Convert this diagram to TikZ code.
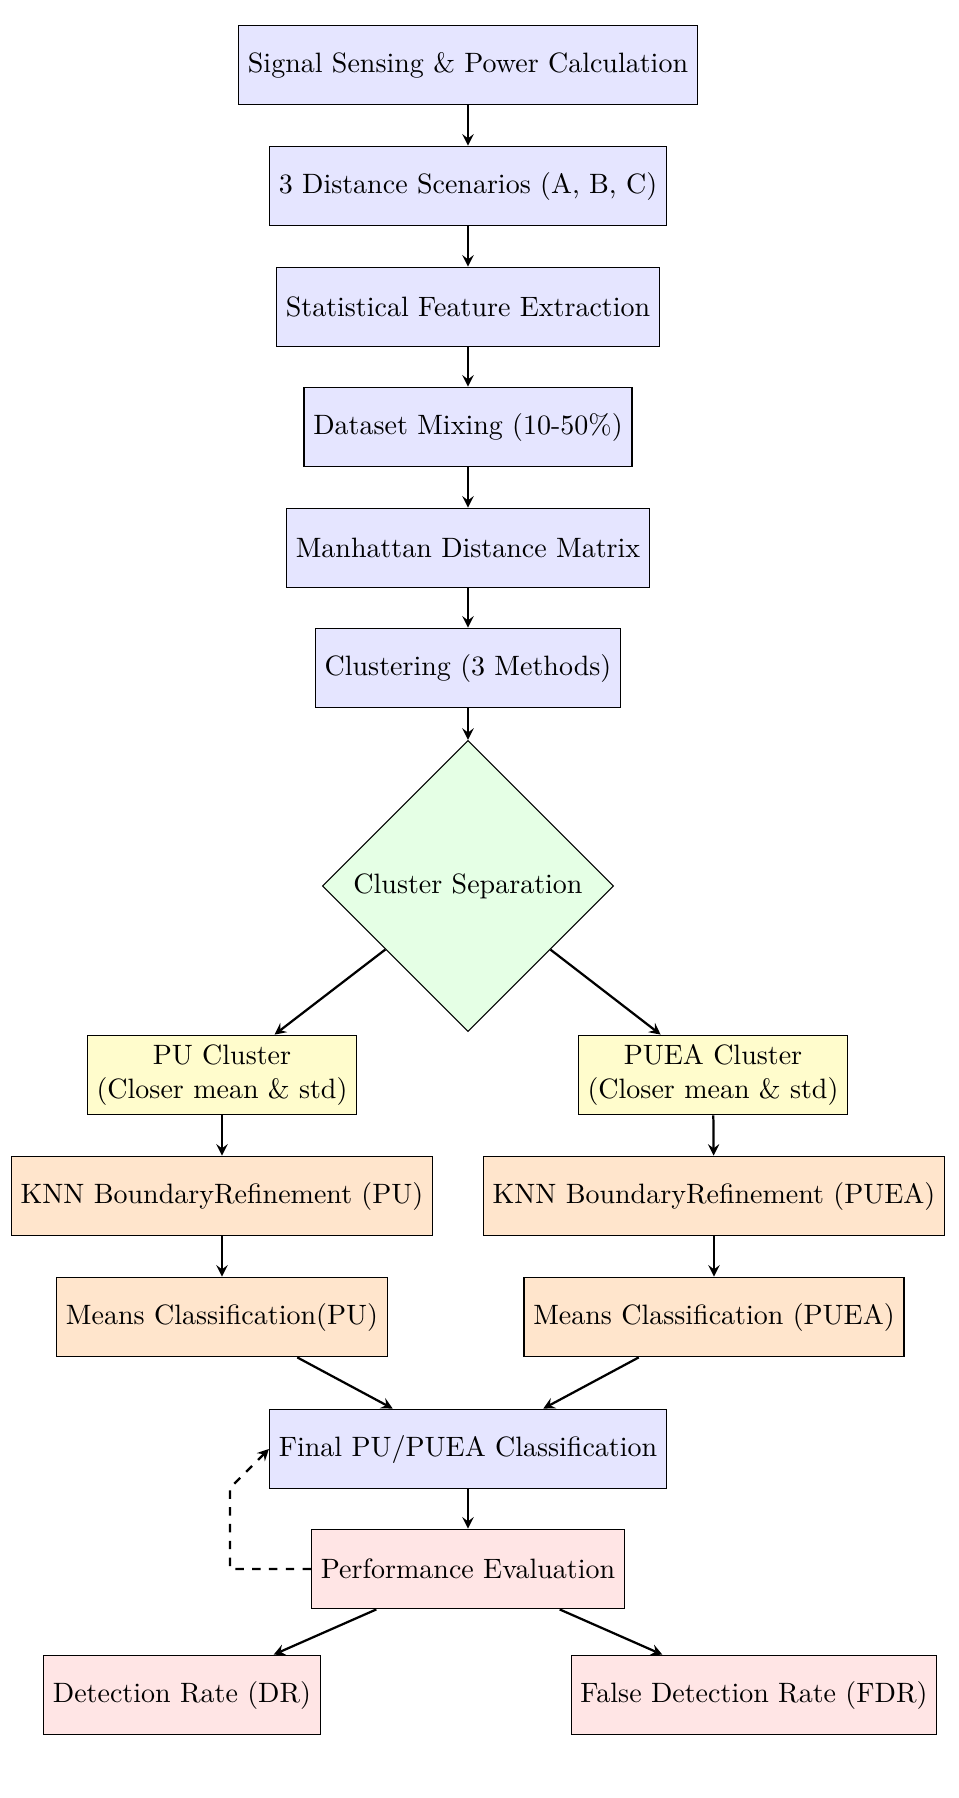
\documentclass[tikz,border=0pt]{standalone}
\usetikzlibrary{shapes.geometric}
\begin{document}
\begin{tikzpicture}[x=0.3571pt,y=-0.3571pt, >=stealth,
  box/.style={draw, rectangle, minimum height=1cm, align=center, font=\normalsize},
  bluebox/.style={box, fill=blue!10},
  yelbox/.style={box, fill=yellow!20},
  orbox/.style={box, fill=orange!20},
  redbox/.style={box, fill=red!10},
  decide/.style={draw, diamond, aspect=1, fill=green!10, minimum width=104pt, minimum height=104pt, inner sep=1pt},
  conn/.style={->, thick}]
\useasboundingbox (0,0) rectangle (959,1798);
\node[bluebox] (n1) at (468,65) {Signal Sensing \& Power Calculation};
\node[bluebox] (n2) at (468,186) {3 Distance Scenarios (A, B, C)};
\node[bluebox] (n3) at (468,307) {Statistical Feature Extraction};
\node[bluebox] (n4) at (468,427) {Dataset Mixing (10-50\%)};
\node[bluebox] (n5) at (468,548) {Manhattan Distance Matrix};
\node[bluebox] (n6) at (468,668) {Clustering (3 Methods)};
\node[decide] (dia) at (468,886) {Cluster Separation};
\node[yelbox] (pu) at (222,1075) {PU Cluster\\(Closer mean \& std)};
\node[yelbox] (puea) at (713,1075) {PUEA Cluster\\(Closer mean \& std)};
\node[orbox] (knnpu) at (222,1196) {KNN BoundaryRefinement (PU)};
\node[orbox] (knnpuea) at (714,1196) {KNN BoundaryRefinement (PUEA)};
\node[orbox] (mpu) at (222,1317) {Means Classification(PU)};
\node[orbox] (mpuea) at (714,1317) {Means Classification (PUEA)};
\node[bluebox] (final) at (468,1449) {Final PU/PUEA Classification};
\node[redbox] (perf) at (468,1569) {Performance Evaluation};
\node[redbox] (dr) at (182,1695) {Detection Rate (DR)};
\node[redbox] (fdr) at (754,1695) {False Detection Rate (FDR)};
\coordinate (c1) at (230,1569);
\coordinate (c2) at (230,1488);
\draw[conn] (n1) -- (n2);
\draw[conn] (n2) -- (n3);
\draw[conn] (n3) -- (n4);
\draw[conn] (n4) -- (n5);
\draw[conn] (n5) -- (n6);
\draw[conn] (n6) -- (dia);
\draw[conn] (dia) -- (pu);
\draw[conn] (dia) -- (puea);
\draw[conn] (pu) -- (knnpu);
\draw[conn] (puea) -- (knnpuea);
\draw[conn] (knnpu) -- (mpu);
\draw[conn] (knnpuea) -- (mpuea);
\draw[conn] (mpu) -- (final);
\draw[conn] (mpuea) -- (final);
\draw[conn] (final) -- (perf);
\draw[conn] (perf) -- (dr);
\draw[conn] (perf) -- (fdr);
\draw[conn, dashed] (perf.west) -- (c1) -- (c2) -- (final.west);
\end{tikzpicture}
\end{document}
